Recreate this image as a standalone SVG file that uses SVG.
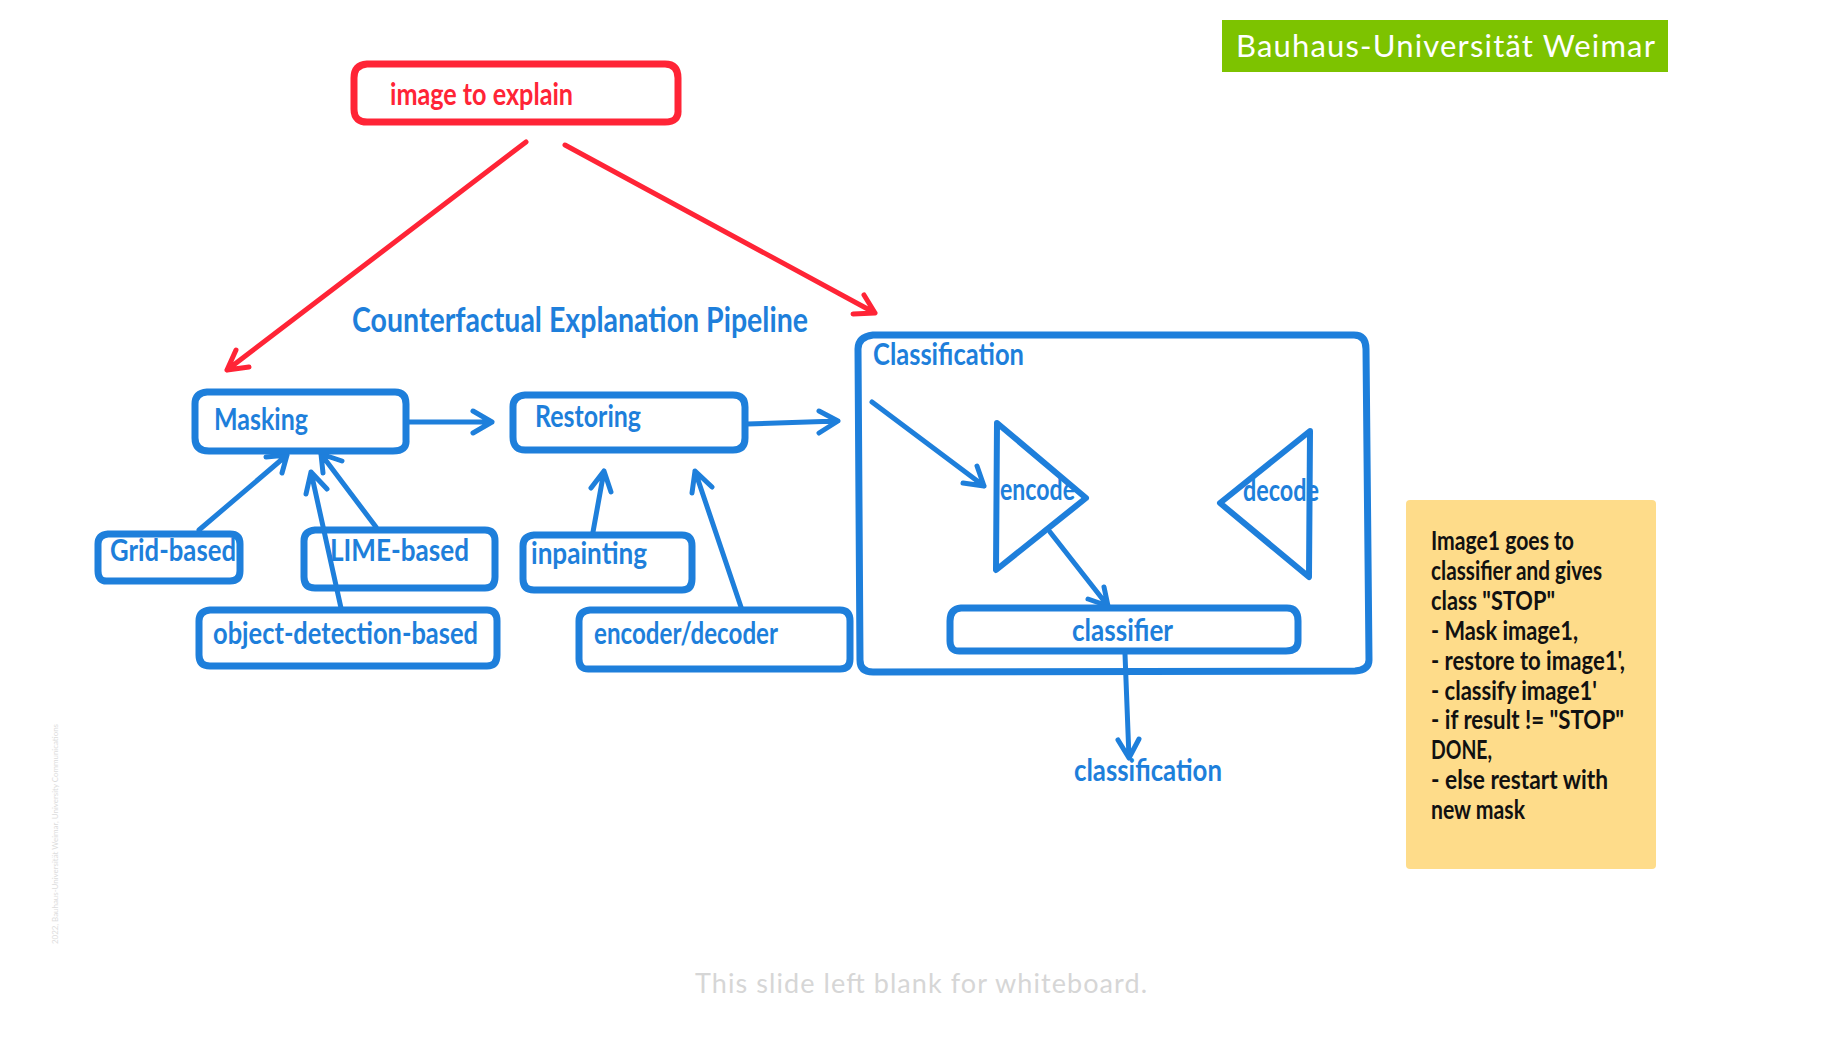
<svg xmlns="http://www.w3.org/2000/svg" width="1840" height="1052" viewBox="0 0 1840 1052">
<style>
.b{fill:none;stroke:#1e7fdb;stroke-width:7;stroke-linecap:round;stroke-linejoin:round}
.t{fill:none;stroke:#1e7fdb;stroke-width:6;stroke-linecap:round;stroke-linejoin:round}
.r{fill:none;stroke:#ff2436;stroke-width:7;stroke-linecap:round;stroke-linejoin:round}
.c{fill:none;stroke:#1e7fdb;stroke-width:5;stroke-linecap:round;stroke-linejoin:round}
.cr{fill:none;stroke:#ff2436;stroke-width:5;stroke-linecap:round;stroke-linejoin:round}
text{font-family:"Lato","Noto Sans",sans-serif}
.h{font-size:30px;fill:#1e7fdb;font-weight:700}
.hr{font-size:30px;fill:#ff2436;font-weight:700}
.n{font-size:27px;fill:#111;font-weight:700}
</style>
<rect width="1840" height="1052" fill="#fff"/>
<g id="connectors">
<path class="cr" d="M526 142L227 370M236 350L227 370L249 367"/>
<path class="cr" d="M565 145L875 313M864 295L875 313L853 314"/>
<path class="c" d="M409 422H492M473 411L492 422L473 433"/>
<path class="c" d="M747 424L838 421M819 411L838 421L819 433"/>
<path class="c" d="M199 530L287 455M266 457L287 455L282 473"/>
<path class="c" d="M376 527L321 454M342 461L321 454L323 473"/>
<path class="c" d="M341 608L311 472M306 494L311 472L327 489"/>
<path class="c" d="M593 532L604 471M591 488L604 471L611 492"/>
<path class="c" d="M741 607L695 471M692 493L695 471L712 487"/>
<path class="c" d="M872 402L984 486M977 466L984 486L963 483"/>
<path class="c" d="M1050 532L1108 606M1104 587L1108 606L1088 599"/>
<path class="c" d="M1125 654L1129 758M1118 740L1129 758L1139 739"/>
</g>
<g id="header"><rect x="1222" y="20" width="446" height="52" fill="#7dc300"/><text x="1236" y="57" font-size="31" fill="#fff" textLength="419" lengthAdjust="spacing">Bauhaus-Universität Weimar</text></g>
<g id="image-to-explain"><path class="r" d="M367 64H665Q678 64 678 78V110Q679 122 665 122H369Q354 123 354 109V78Q354 65 367 64Z"/><text class="hr" x="390" y="105" textLength="183" lengthAdjust="spacingAndGlyphs">image to explain</text></g>
<text id="title" x="352" y="332" font-size="35" fill="#1e7fdb" font-weight="700" textLength="456" lengthAdjust="spacingAndGlyphs">Counterfactual Explanation Pipeline</text>
<g id="masking"><path class="b" d="M207 392H395Q406 392 406 404V440Q407 451 393 451H209Q195 451 195 438V404Q195 393 207 392Z"/><text class="h" x="214" y="430" textLength="94" lengthAdjust="spacingAndGlyphs">Masking</text></g>
<g id="restoring"><path class="b" d="M525 395H733Q745 395 745 407V438Q745 450 733 450H527Q513 451 513 437V407Q513 396 525 395Z"/><text class="h" x="535" y="427" textLength="106" lengthAdjust="spacingAndGlyphs">Restoring</text></g>
<g id="grid-based"><path class="b" d="M108 534H230Q240 534 240 544V571Q240 581 230 581H108Q98 582 98 571V544Q98 535 108 534Z"/><text class="h" x="110" y="561" textLength="126" lengthAdjust="spacingAndGlyphs">Grid-based</text></g>
<g id="lime-based"><path class="b" d="M315 530H485Q495 530 495 541V577Q495 588 485 588H315Q304 588 304 577V541Q304 531 315 530Z"/><text class="h" x="330" y="561" textLength="139" lengthAdjust="spacingAndGlyphs">LIME-based</text></g>
<g id="object-detection-based"><path class="b" d="M210 610H487Q497 610 497 621V655Q497 666 487 666H210Q199 666 199 655V621Q199 611 210 610Z"/><text class="h" x="213" y="644" textLength="265" lengthAdjust="spacingAndGlyphs">object-detection-based</text></g>
<g id="inpainting"><path class="b" d="M534 535H682Q692 535 692 546V579Q692 590 682 590H534Q523 590 523 579V546Q523 536 534 535Z"/><text class="h" x="531" y="564" textLength="116" lengthAdjust="spacingAndGlyphs">inpainting</text></g>
<g id="encoder-decoder"><path class="b" d="M590 610H840Q850 610 850 621V659Q850 669 840 669H590Q579 670 579 659V621Q579 611 590 610Z"/><text class="h" x="594" y="644" textLength="184" lengthAdjust="spacingAndGlyphs">encoder/decoder</text></g>
<g id="classification-box"><path class="b" d="M873 335H1354Q1366 335 1366 349L1369 660Q1369 670 1355 671L873 672Q860 672 860 660L858 349Q858 337 873 335Z"/><text class="h" x="873" y="365" textLength="151" lengthAdjust="spacingAndGlyphs">Classification</text></g>
<g id="encode"><path class="t" d="M997 423L1086 498L996 570Z"/><text class="h" x="1000" y="500" textLength="75" lengthAdjust="spacingAndGlyphs">encode</text></g>
<g id="decode"><path class="t" d="M1310 431L1220 503L1309 577Z"/><text class="h" x="1243" y="501" textLength="76" lengthAdjust="spacingAndGlyphs">decode</text></g>
<g id="classifier"><path class="b" d="M961 608H1287Q1298 608 1298 621V641Q1298 651 1286 651H961Q950 652 950 641V621Q950 609 961 608Z"/><text class="h" x="1072" y="641" textLength="101" lengthAdjust="spacingAndGlyphs">classifier</text></g>
<text id="classification" class="h" x="1074" y="781" textLength="148" lengthAdjust="spacingAndGlyphs">classification</text>
<g id="note"><rect x="1406" y="500" width="250" height="369" rx="4" fill="#fedc8a"/>
<g class="n"><text x="1431" y="550" textLength="143" lengthAdjust="spacingAndGlyphs">Image1 goes to</text><text x="1431" y="580" textLength="171" lengthAdjust="spacingAndGlyphs">classifier and gives</text><text x="1431" y="610" textLength="124" lengthAdjust="spacingAndGlyphs">class "STOP"</text><text x="1431" y="640" textLength="147" lengthAdjust="spacingAndGlyphs">- Mask image1,</text><text x="1431" y="670" textLength="194" lengthAdjust="spacingAndGlyphs">- restore to image1',</text><text x="1431" y="700" textLength="166" lengthAdjust="spacingAndGlyphs">- classify image1'</text><text x="1431" y="729" textLength="193" lengthAdjust="spacingAndGlyphs">- if result != "STOP"</text><text x="1431" y="759" textLength="61" lengthAdjust="spacingAndGlyphs">DONE,</text><text x="1431" y="789" textLength="177" lengthAdjust="spacingAndGlyphs">- else restart with</text><text x="1431" y="819" textLength="94" lengthAdjust="spacingAndGlyphs">new mask</text></g></g>
<text id="footer" x="695" y="993" font-size="27" fill="#d6d6d6" textLength="452" lengthAdjust="spacing">This slide left blank for whiteboard.</text>
<text id="side" transform="translate(58 944) rotate(-90)" font-size="8" fill="#dcdcdc" textLength="220" lengthAdjust="spacingAndGlyphs">2022, Bauhaus-Universität Weimar, University Communications</text>
</svg>
